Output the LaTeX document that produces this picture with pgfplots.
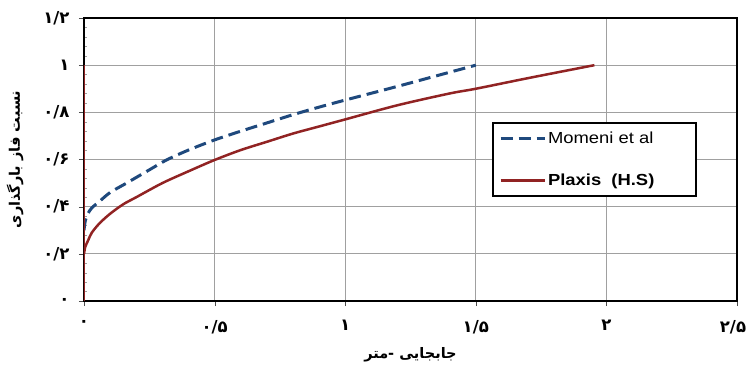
\documentclass[border=0pt]{standalone}
\usepackage{pgfplots}
\pgfplotsset{compat=1.18}
\usepackage{fontspec}
\setmainfont{Liberation Sans}
\TeXXeTstate=1
\newfontfamily\arabicfont[Script=Arabic]{DejaVu Sans}
\newfontfamily\legfont[FakeStretch=1.15]{Liberation Sans}
\definecolor{momeni}{RGB}{31,73,125}
\definecolor{plaxis}{RGB}{145,35,35}
\definecolor{gridgray}{RGB}{160,160,160}

\begin{document}
\begin{tikzpicture}
\path[use as bounding box] (-84bp,-64bp) rectangle (665bp,301bp);
\begin{axis}[
  at={(0,0)}, anchor=south west,
  scale only axis, width=653bp, height=283bp,
  xmin=0, xmax=2.5, ymin=0, ymax=1.2,
  xtick={0,0.5,1,1.5,2,2.5},
  xticklabels={۰,۰/۵,۱,۱/۵,۲,{۲/۵\kern8bp}},
  ytick={0,0.2,0.4,0.6,0.8,1,1.2},
  yticklabels={۰,۰/۲,۰/۴,۰/۶,۰/۸,۱,۱/۲},
  minor y tick num=4,
  tick align=outside,
  major tick length=5bp,
  minor tick length=3bp,
  minor y tick style={xshift=3bp, gridgray},
  major tick style={black!70},
  xtick pos=bottom, ytick pos=left,
  grid=major,
  major grid style={gridgray, line width=1bp},
  axis line style={black, line width=2.5bp},
  ticklabel style={font=\arabicfont\bfseries\fontsize{16.5bp}{16.5bp}\selectfont},
  yticklabel style={xshift=-6bp},
  xticklabel style={yshift=-11bp},
  xlabel={\mbox{\beginR متر\endR}\mbox{-}\hspace{0.35em}\mbox{\beginR جابجایی\endR}},
  ylabel={\beginR نسبت فاز بارگذاری\endR},
  label style={font=\arabicfont\bfseries\fontsize{14.5bp}{14.5bp}\selectfont},
  xlabel style={at={(axis description cs:0.5,-0.19)}, anchor=center},
  ylabel style={at={(axis description cs:-0.1057,0.5)}, anchor=center},
  legend style={at={(axis description cs:0.625,0.6325)}, anchor=north west,
    draw=black, line width=2bp, fill=white,
    font=\legfont\fontsize{16bp}{16bp}\selectfont,
    inner xsep=6bp, inner ysep=7bp, row sep=25bp},
  legend cell align=left,
  legend image code/.code={\draw[#1] (0cm,0cm) -- (1.55cm,0cm);},
]
% Momeni et al
\addplot[momeni, line width=3bp, dash pattern=on 12bp off 6bp, smooth] coordinates {
 (0,0.30) (0.005,0.34) (0.015,0.37) (0.03,0.395) (0.06,0.423) (0.1,0.46)
 (0.163,0.50) (0.25,0.556) (0.316,0.598) (0.4,0.64) (0.5,0.683) (0.6,0.72)
 (0.7,0.755) (0.8,0.79) (0.9,0.822) (1.0,0.852) (1.2,0.91) (1.35,0.955) (1.5,1.0)
};
\addlegendentry{\makebox[140bp][l]{Momeni et al}}
% Plaxis (Hardening Soil)
\addplot[plaxis, line width=2.5bp, smooth] coordinates {
 (0,0.2) (0.005,0.23) (0.015,0.255) (0.03,0.29) (0.06,0.33) (0.1,0.37)
 (0.15,0.41) (0.2,0.44) (0.3,0.50) (0.4,0.55) (0.5,0.598) (0.6,0.64)
 (0.7,0.675) (0.8,0.71) (0.9,0.74) (1.0,0.77) (1.2,0.83) (1.4,0.88)
 (1.5,0.90) (1.7,0.945) (1.954,1.0)
};
\addlegendentry{\textbf{Plaxis\ \ (H.S)}}
% vertical branch at zero displacement
\addplot[plaxis, line width=2.5bp, forget plot] coordinates {(0,0) (0,1)};
\end{axis}
\end{tikzpicture}
\end{document}
